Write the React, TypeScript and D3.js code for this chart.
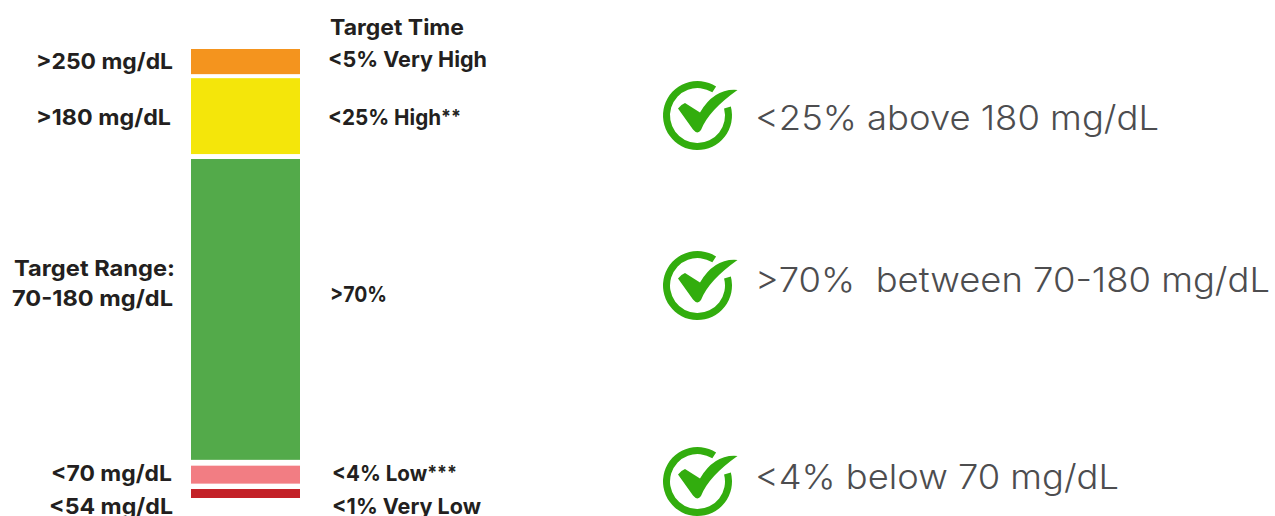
import React from "react";
import * as d3 from "d3";

const W = 1275, H = 516;
const FONT = "Inter, 'Noto Sans', sans-serif";

// Bar bands, in percent of the bar's height
const bandNames = ["Very High", "High", "Target", "Low", "Very Low"];
const bandTop = [100, 93.5, 75.5, 7.2, 2.0];
const bandBottom = [94.4, 76.6, 8.5, 3.2, 0];
const bandColors = ["#f4941e", "#f4e60a", "#53aa4a", "#f27d83", "#c32127"];

const leftLabels = [">250 mg/dL", ">180 mg/dL", "Target Range:", "70-180 mg/dL", "<70 mg/dL", "<54 mg/dL"];
const leftY = [69, 125, 276, 306, 481, 514];
const leftX = [36, 36, 14, 12, 51, 49];
const leftW = [137, 135, 161, 161, 121, 124];
const rightLabels = ["Target Time", "<5% Very High", "<25% High", ">70%", "<4% Low", "<1% Very Low"];
const rightMarks = ["", "", "**", "", "***", ""];
const rightY = [35, 67, 125, 302, 481, 514];
const rightX = [330, 328, 328, 330, 332, 332];
const rightW = [134, 159, 133, 57, 125, 149];

const goalLabels = ["<25% above 180 mg/dL", ">70%  between 70-180 mg/dL", "<4% below 70 mg/dL"];
const goalY = [130, 292, 489];
const goalW = [404, 515, 364];
const iconCy = [115.5, 285.5, 481.5];

const y = d3.scaleLinear().domain([0, 100]).range([498, 49]);
const x = d3.scaleBand().domain(["bar"]).range([191, 300]);

const ringPath = (() => {
  const arc = d3.arc();
  return arc({ innerRadius: 27.5, outerRadius: 34.5, startAngle: 1.31, endAngle: 2 * Math.PI + 0.57 } as any) as string;
})();

const checkPath = (() => {
  const p = d3.path();
  p.moveTo(-19.5, -7);
  p.quadraticCurveTo(-16, -11.5, -12.5, -12.5);
  p.lineTo(2.5, -3);
  p.quadraticCurveTo(17, -27.5, 40, -25.5);
  p.quadraticCurveTo(11, -5, 3.5, 14.5);
  p.quadraticCurveTo(0, 19.5, -4.5, 14);
  p.closePath();
  return p.toString();
})();

export default function App() {
  return (
    <svg width={W} height={H} viewBox={`0 0 ${W} ${H}`} style={{ position: "absolute", left: 0, top: 0, background: "#fff" }}>
      {bandNames.map((n, i) => (
        <rect key={n} x={x("bar")} width={x.bandwidth()} y={y(bandTop[i])} height={y(bandBottom[i]) - y(bandTop[i])} fill={bandColors[i]} />
      ))}
      <g fontFamily={FONT} fontWeight={700} fontSize={22} fill="#231f20">
        {leftLabels.map((t, i) => (
          <text key={t} x={leftX[i]} y={leftY[i]} textLength={leftW[i]} lengthAdjust="spacingAndGlyphs">{t}</text>
        ))}
        {rightLabels.map((t, i) => (
          <text key={t} x={rightX[i]} y={rightY[i]} textLength={rightW[i]} lengthAdjust="spacingAndGlyphs">
            {t}
            {rightMarks[i] && <tspan fontSize={19} dy={-2}>{rightMarks[i]}</tspan>}
          </text>
        ))}
      </g>
      <g fontFamily={FONT} fontWeight={300} fontSize={34} fill="#4d4d4f">
        {goalLabels.map((t, i) => (
          <text key={t} x={755} y={goalY[i]} xmlSpace="preserve" textLength={goalW[i]} lengthAdjust="spacingAndGlyphs">{t}</text>
        ))}
      </g>
      {iconCy.map((cy) => (
        <g key={cy} transform={`translate(697.5,${cy})`} fill="#32ad0e">
          <path d={ringPath} />
          <path d={checkPath} />
        </g>
      ))}
    </svg>
  );
}
